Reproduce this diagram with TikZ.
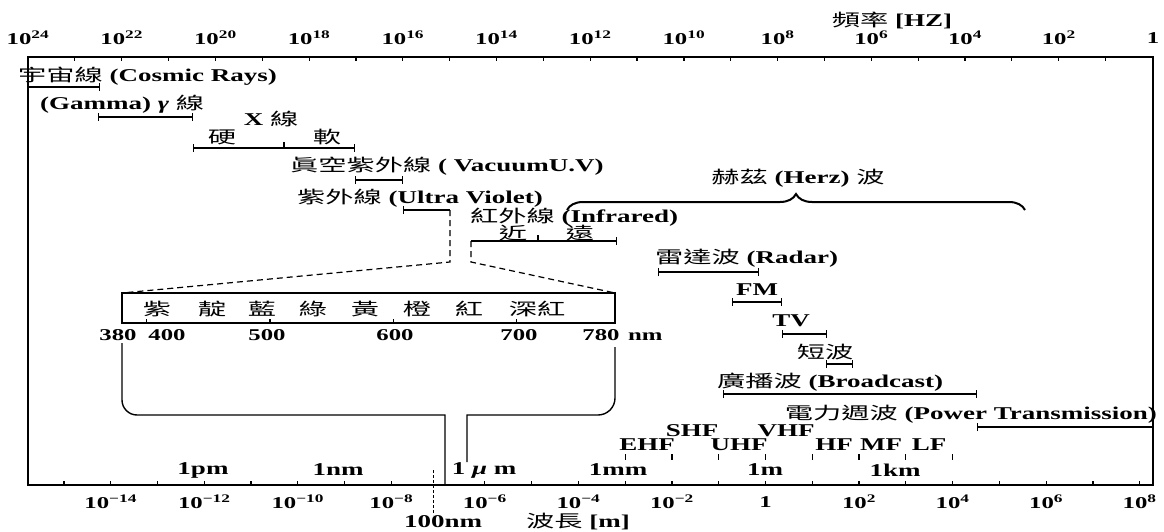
\documentclass[tikz,border=0pt]{standalone}
\usepackage{fontspec}
\setmainfont{Liberation Serif}[FakeStretch=1.5]
\newfontfamily\cjk{Noto Sans CJK TC}[FakeStretch=1.65, Scale=0.95]
\usetikzlibrary{arrows.meta,decorations.pathreplacing}

\newcommand\zh[1]{{\cjk\mdseries #1}}

\tikzset{
  lbl/.style={inner sep=0pt, font=\bfseries\fontsize{18}{20}\selectfont},
  num/.style={inner sep=0pt, font=\bfseries\fontsize{16.5}{18}\selectfont},
  wbar/.style={line width=1.4pt, {Bar[width=8pt]}-{Bar[width=8pt]}},
  wbarL/.style={line width=1.4pt, {Bar[width=8pt]}-},
  wbarR/.style={line width=1.4pt, -{Bar[width=8pt]}},
  zoomline/.style={line width=1.2pt, dash pattern=on 6pt off 4pt},
}

\begin{document}
\begin{tikzpicture}[x=1pt,y=-1pt]
\useasboundingbox (0,0) rectangle (1164,532);

% frame: frequency axis on top, wavelength axis at the bottom
\draw[line width=1.6pt] (28,57) rectangle (1153,485);

\foreach \m in {1,...,23}
  \draw[line width=1.2pt] ({28+46.85*(24-\m)},57) -- ++(0,4);
\foreach \m in {24,22,...,2}
  \node[num] at ({28+46.85*(24-\m)},38) {10\textsuperscript{\m}};
\node[num] at (1153,38) {1};
\node[lbl] (freq) at (892,20) {\zh{頻率} [HZ]};

\foreach \n in {-15,...,8}
  {\ifnum\n=-7\else\draw[line width=1.2pt] ({765.5+46.77*\n},485) -- ++(0,-4);\fi}
\foreach \n in {14,12,...,2}
  \node[num] at ({765.5-46.77*\n},502) {10\textsuperscript{−\n}};
\node[num] at (765.5,502) {1};
\foreach \n in {2,4,...,8}
  \node[num] at ({765.5+46.77*\n},502) {10\textsuperscript{\n}};
\draw[line width=1pt, dash pattern=on 3pt off 2pt] (433,470) -- (433,515);
\node[lbl] (nm100) at (443,522) {100nm};
\node[lbl] (wave) at (578,522) {\zh{波長} [m]};

\foreach \t/\x in {1pm/203,1nm/338,1mm/618,1m/765,1km/895}
  \node[lbl] (u-\t) at (\x,470) {\t};
\node[lbl] (u-um) at (484,470) {1 \textit{μ} m};

% radio bands
\foreach \n in {-3,...,4}
  \draw[line width=1.2pt] ({765.5+46.77*\n},454) -- ++(0,6);
\foreach \b/\x/\y in {EHF/647/445,SHF/692/431,UHF/739/445,VHF/786/431,HF/834/445,MF/881/445,LF/929/445}
  \node[lbl] (\b) at (\x,\y) {\b};

% short wavelengths
\node[lbl,anchor=west] (cosmic) at (18,76) {\zh{宇宙線} (Cosmic Rays)};
\draw[wbarR] (28,87) -- (100,87);
\node[lbl,anchor=west] (gamma) at (40,104) {(Gamma) \textit{γ} \zh{線}};
\draw[wbar] (98,117) -- (193,117);
\node[lbl] (xray) at (271,119) {X \zh{線}};
\node[lbl] (hard) at (222,137) {\zh{硬}};
\node[lbl] (soft) at (327,137) {\zh{軟}};
\draw[wbar] (193,148) -- (355,148);
\draw[line width=1.4pt] (284,142) -- (284,148);
\node[lbl,anchor=west] (vuv) at (290,166) {\zh{眞空紫外線} ( VacuumU.V)};
\draw[wbar] (355,180) -- (403,180);
\node[lbl,anchor=west] (uv) at (297,198) {\zh{紫外線} (Ultra Violet)};
\draw[wbarL] (403,210) -- (450,210);
\node[lbl,anchor=west] (ir) at (470,217) {\zh{紅外線} (Infrared)};
\node[lbl] (near) at (513,233) {\zh{近}};
\node[lbl] (far) at (580,233) {\zh{遠}};
\draw[wbarR] (471,241) -- (617,241);
\draw[line width=1.2pt] (538,235) -- (538,241);

% visible light, blown up
\draw[zoomline] (450,210) -- (450,262) -- (122,293);
\draw[zoomline] (471,241) -- (471,262) -- (615,293);
\draw[line width=1.4pt] (122,293) rectangle (615,323);
\foreach \v in {400,500,600,700}
  \draw[line width=1.2pt] ({122+1.2325*(\v-380)},323) -- ++(0,-4);
\foreach \c/\x in {紫/157,靛/212,藍/262,綠/313,黃/365,橙/417,紅/469,深紅/537}
  \node[lbl] (col-\x) at (\x,309) {\zh{\c}};
\foreach \t/\x in {380/118,400/167,500/267,600/395,700/519,780/601}
  \node[num] (nm-\t) at (\x,335) {\t};
\node[num,anchor=west] (nmunit) at (628,337) {nm};
\draw[line width=1.4pt] (122,343) [rounded corners=15pt] -- (122,415) -- (300,415)
  [sharp corners] -- (445,415) -- (445,485);
\draw[line width=1.4pt] (615,347) [rounded corners=17pt] -- (615,415) -- (540,415)
  [sharp corners] -- (467,415) -- (467,462);

% Herz waves
\draw[line width=2pt, decorate, decoration={brace, amplitude=16pt}] (567,210) -- (1025,210);
\node[lbl] (herz) at (798,178) {\zh{赫茲} (Herz) \zh{波}};
\node[lbl,anchor=west] (radar) at (655,258) {\zh{雷達波} (Radar)};
\draw[wbar] (658,272) -- (759,272);
\node[lbl] (fm) at (757,290) {FM};
\draw[wbar] (732,302) -- (782,302);
\node[lbl] (tv) at (791,321) {TV};
\draw[wbar] (782,334) -- (827,334);
\node[lbl] (short) at (825,352) {\zh{短波}};
\draw[wbar] (826,364) -- (853,364);
\node[lbl,anchor=west] (bcast) at (717,382) {\zh{廣播波} (Broadcast)};
\draw[wbar] (723,394) -- (977,394);
\node[lbl,anchor=east] (power) at (1157,414) {\zh{電力週波} (Power Transmission)};
\draw[wbarL] (977,427) -- (1153,427);

\end{tikzpicture}
\end{document}
